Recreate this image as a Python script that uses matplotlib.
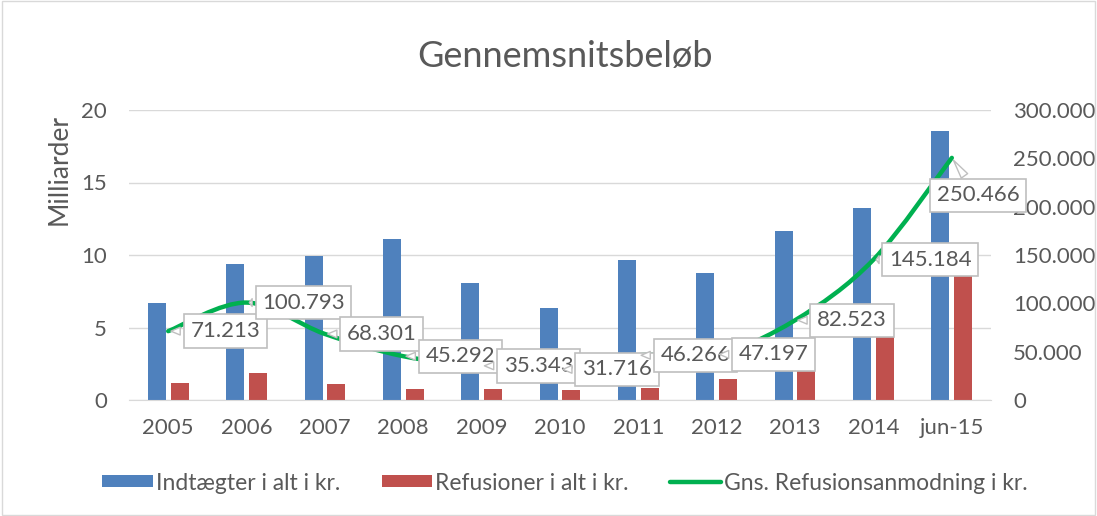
import numpy as np
import matplotlib.pyplot as plt
from matplotlib.path import Path
from matplotlib.patches import PathPatch, Rectangle
from matplotlib.ticker import FuncFormatter

plt.rcParams['font.family'] = ['Lato', 'DejaVu Sans']

# data
years = ['2005', '2006', '2007', '2008', '2009', '2010', '2011', '2012', '2013', '2014', 'jun-15']
indtaegter = [6.7, 9.4, 9.95, 11.1, 8.05, 6.35, 9.65, 8.75, 11.65, 13.25, 18.55]  # milliarder
refusioner = [1.15, 1.85, 1.1, 0.75, 0.75, 0.7, 0.8, 1.45, 2.0, 4.5, 9.0]  # milliarder
gns_refusion = [71213, 100793, 68301, 45292, 35343, 31716, 46266, 47197, 82523, 145184, 250466]

blue = '#4F81BD'
red = '#C0504D'
green = '#00B050'
txt = '#595959'
grid = '#D9D9D9'

fig = plt.figure(figsize=(10.97, 5.16), dpi=100)
ax = fig.add_axes([129/1097, 1 - 400/516, 862/1097, 290/516])
x = np.arange(len(years))
w = 0.23
ax.bar(x - 0.145, indtaegter, w, color=blue, label='Indtægter i alt i kr.', zorder=2)
ax.bar(x + 0.145, refusioner, w, color=red, label='Refusioner i alt i kr.', zorder=2)
ax.set_xlim(-0.5, len(years) - 0.5)
ax.set_ylim(0, 20)
ax.set_yticks([0, 5, 10, 15, 20])
ax.set_xticks(x)
ax.set_xticklabels(years)
ax.grid(axis='y', color=grid, lw=1, zorder=0)
ax.tick_params(length=0, labelsize=16, colors=txt)
ax.tick_params(axis='x', pad=13)
ax.tick_params(axis='y', pad=16)
for s in ['top', 'right', 'left']:
    ax.spines[s].set_visible(False)
ax.spines['bottom'].set_color(grid)

ax2 = ax.twinx()
ax2.set_ylim(0, 300000)
ax2.set_yticks(np.arange(0, 300001, 50000))
ax2.yaxis.set_major_formatter(FuncFormatter(lambda v, p: f'{int(v):,}'.replace(',', '.')))
ax2.tick_params(length=0, labelsize=16, colors=txt, pad=16)
for s in ax2.spines.values():
    s.set_visible(False)

# smoothed line (Catmull-Rom as bezier segments)
pts = np.column_stack([x, gns_refusion]).astype(float)
verts = [pts[0]]
codes = [Path.MOVETO]
n = len(pts)
for i in range(n - 1):
    p0 = pts[max(i - 1, 0)]
    p1 = pts[i]
    p2 = pts[i + 1]
    p3 = pts[min(i + 2, n - 1)]
    verts += [p1 + (p2 - p0) / 6, p2 - (p3 - p1) / 6, p2]
    codes += [Path.CURVE4] * 3
ax2.add_patch(PathPatch(Path(verts, codes), fc='none', ec=green, lw=3.2,
                        capstyle='round', joinstyle='round', zorder=3))
ax2.plot([], [], color=green, lw=3.2, solid_capstyle='round', label='Gns. Refusionsanmodning i kr.')

for i, v in enumerate(gns_refusion):
    lbl = f'{v:,}'.replace(',', '.')
    off = (19, -27) if i == len(gns_refusion) - 1 else (41, 0)
    ax2.annotate(lbl, xy=(i, v), xytext=off, textcoords='offset points',
                 ha='center', va='center', fontsize=16, color=txt, zorder=5,
                 bbox=dict(boxstyle='square,pad=0.3', fc='white', ec='#BFBFBF', lw=1.2),
                 arrowprops=dict(arrowstyle='wedge,tail_width=0.35,shrink_factor=0.5',
                                 fc='white', ec='#BFBFBF', lw=1.0))

fig.text(565/1097, 1 - 57/516, 'Gennemsnitsbeløb', ha='center', va='center', fontsize=26, color=txt)
fig.text(59/1097, 1 - 170/516, 'Milliarder', rotation=90, ha='center', va='center', fontsize=19, color=txt)

h1, l1 = ax.get_legend_handles_labels()
h2, l2 = ax2.get_legend_handles_labels()
fig.legend(h1 + h2, l1 + l2, loc='center', bbox_to_anchor=(565/1097, 1 - 483/516), ncol=3,
           frameon=False, fontsize=16.5, labelcolor=txt, handlelength=2.2, handleheight=0.45,
           handletextpad=0.15, columnspacing=1.8)

fig.patches.append(Rectangle((0.002, 0.002), 0.996, 0.996, transform=fig.transFigure,
                             fill=False, ec=grid, lw=1))

fig.savefig('out.png', dpi=100)
